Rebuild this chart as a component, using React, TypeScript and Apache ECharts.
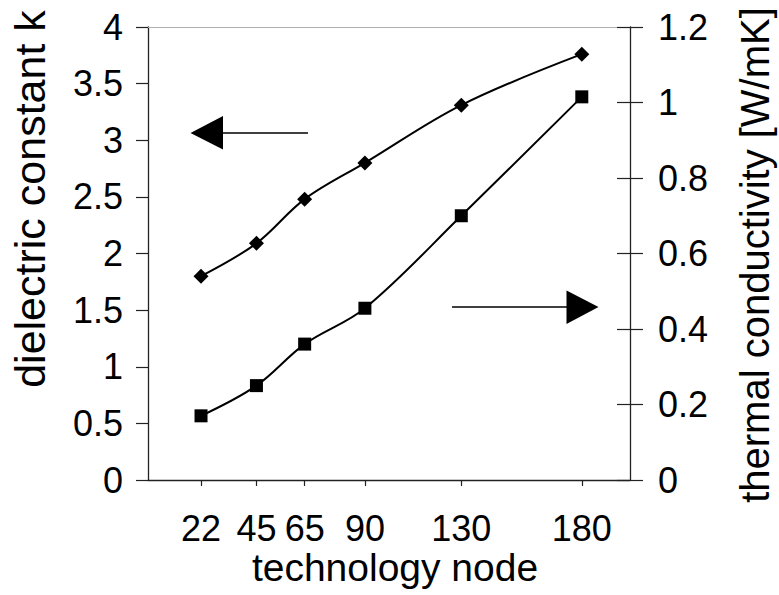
import React, { useEffect, useRef } from "react";
import * as echarts from "echarts";

const nodes = [22, 45, 65, 90, 130, 180];
const dielectricK = [1.8, 2.09, 2.48, 2.8, 3.31, 3.76];
const thermalCond = [0.17, 0.25, 0.36, 0.455, 0.7, 1.015];

const xName = "technology node";
const leftName = "dielectric constant k";
const rightName = "thermal conductivity [W/mK]";

const FONT = "'Liberation Sans', Arial, sans-serif";

export default function App() {
  const ref = useRef<HTMLDivElement>(null);
  useEffect(() => {
    if (!ref.current) return;
    const chart = echarts.init(ref.current, undefined, { renderer: "svg" });
    const tickLabel = { fontSize: 36, color: "#000", fontFamily: FONT };
    chart.setOption({
      animation: false,
      backgroundColor: "#fff",
      grid: { left: 148, right: 149, top: 27, bottom: 115, containLabel: false },
      xAxis: [
        {
          type: "value",
          min: 0,
          max: 200,
          position: "bottom",
          axisLine: { show: true, onZero: false, lineStyle: { color: "#222", width: 1.3 } },
          axisTick: { show: true, customValues: nodes, length: 6, inside: false, lineStyle: { color: "#222", width: 1.2 } },
          axisLabel: { show: true, customValues: nodes, margin: 30, ...tickLabel },
          splitLine: { show: false },
        },
        {
          type: "value",
          min: 0,
          max: 200,
          position: "top",
          axisLine: { show: true, onZero: false, lineStyle: { color: "#b0b0b0", width: 1 } },
          axisTick: { show: false },
          axisLabel: { show: false },
          splitLine: { show: false },
        },
      ],
      yAxis: [
        {
          type: "value",
          min: 0,
          max: 4,
          interval: 0.5,
          position: "left",
          axisLine: { show: true, onZero: false, lineStyle: { color: "#222", width: 1.3 } },
          axisTick: { show: true, length: 12, inside: false, lineStyle: { color: "#222", width: 1.2 } },
          axisLabel: { margin: 25, ...tickLabel },
          splitLine: { show: false },
        },
        {
          type: "value",
          min: 0,
          max: 1.2,
          interval: 0.2,
          position: "right",
          axisLine: { show: true, onZero: false, lineStyle: { color: "#222", width: 1.3 } },
          axisTick: { show: true, length: 13, inside: false, lineStyle: { color: "#222", width: 1.2 } },
          axisLabel: { margin: 28, ...tickLabel },
          splitLine: { show: false },
        },
        {
          type: "value",
          min: 0,
          max: 1.2,
          interval: 0.2,
          position: "right",
          axisLine: { show: false, onZero: false },
          axisTick: { show: true, length: 13, inside: true, lineStyle: { color: "#222", width: 1.2 } },
          axisLabel: { show: false },
          splitLine: { show: false },
        },
      ],
      series: [
        {
          type: "line",
          name: leftName,
          xAxisIndex: 0,
          yAxisIndex: 0,
          data: nodes.map((n, i) => [n, dielectricK[i]]),
          smooth: 0.35,
          symbol: "diamond",
          symbolSize: 15,
          lineStyle: { color: "#000", width: 2 },
          itemStyle: { color: "#000" },
        },
        {
          type: "line",
          name: rightName,
          xAxisIndex: 0,
          yAxisIndex: 1,
          data: nodes.map((n, i) => [n, thermalCond[i]]),
          smooth: 0.35,
          symbol: "rect",
          symbolSize: 13,
          lineStyle: { color: "#000", width: 2 },
          itemStyle: { color: "#000" },
        },
      ],
      graphic: [
        {
          type: "text",
          x: 395,
          y: 567,
          style: { text: xName, fontSize: 39, fontFamily: FONT, fill: "#000", align: "center", verticalAlign: "middle" },
        },
        {
          type: "text",
          x: 30,
          y: 199,
          rotation: Math.PI / 2,
          style: { text: leftName, fontSize: 43, fontFamily: FONT, fill: "#000", align: "center", verticalAlign: "middle" },
        },
        {
          type: "text",
          x: 755,
          y: 255,
          rotation: Math.PI / 2,
          style: { text: rightName, fontSize: 40, fontFamily: FONT, fill: "#000", align: "center", verticalAlign: "middle" },
        },
        {
          type: "line",
          shape: { x1: 222, y1: 133, x2: 308, y2: 133 },
          style: { stroke: "#000", lineWidth: 1.5 },
        },
        {
          type: "polygon",
          shape: { points: [[190.5, 133], [223, 116], [223, 149.5]] },
          style: { fill: "#000" },
        },
        {
          type: "line",
          shape: { x1: 452, y1: 307, x2: 567, y2: 307 },
          style: { stroke: "#000", lineWidth: 1.5 },
        },
        {
          type: "polygon",
          shape: { points: [[598.5, 307], [566.5, 290.5], [566.5, 324]] },
          style: { fill: "#000" },
        },
      ],
    });
    return () => chart.dispose();
  }, []);
  return (
    <div
      ref={ref}
      style={{ position: "fixed", left: 0, top: 0, width: 779, height: 595, background: "#fff" }}
    />
  );
}
